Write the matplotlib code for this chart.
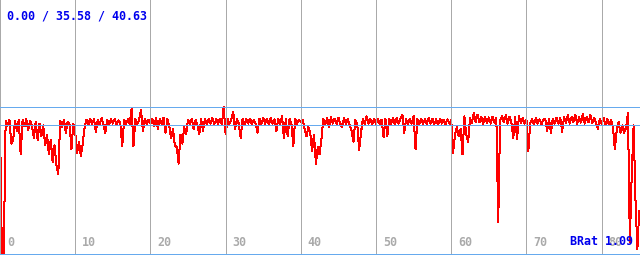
import matplotlib
matplotlib.use("Agg")
import matplotlib.pyplot as plt
import matplotlib.transforms as mtransforms
import numpy as np

# one sample every 0.25 x-units
step = 0.25
values = [
    36.5, 0.0, 0.0, 36.8, 35.4, 37.1, 30.5, 31.5, 36.6, 34.0,
    36.9, 27.5, 37.0, 35.2, 37.2, 34.2, 36.8, 35.5, 32.0, 36.5,
    31.5, 36.0, 32.5, 35.5, 30.0, 33.0, 27.5, 31.5, 25.5, 30.0,
    24.5, 22.0, 36.8, 35.0, 37.0, 33.5, 36.5, 35.8, 29.0, 36.0,
    33.5, 28.0, 31.0, 27.0, 30.5, 35.0, 37.0, 35.8, 37.3, 36.0,
    37.2, 33.8, 36.9, 35.7, 37.5, 35.9, 33.5, 37.0, 35.8, 37.2,
    36.0, 37.3, 35.7, 36.9, 36.2, 29.8, 37.0, 35.8, 37.2, 36.0,
    40.0, 29.8, 37.3, 35.9, 37.0, 39.8, 34.0, 37.2, 35.9, 37.0,
    36.1, 37.4, 35.2, 37.5, 34.5, 37.3, 35.8, 37.6, 33.5, 37.2,
    35.5, 32.0, 34.5, 30.0, 29.5, 25.0, 33.0, 30.5, 35.0, 33.0,
    37.0, 35.8, 37.3, 34.5, 37.0, 35.7, 33.0, 37.2, 34.0, 37.4,
    35.9, 37.3, 36.0, 37.5, 35.8, 37.2, 36.0, 37.4, 35.9, 40.6,
    33.0, 37.3, 35.9, 37.0, 39.3, 34.5, 37.2, 36.0, 32.0, 37.3,
    35.8, 37.2, 36.0, 37.4, 35.8, 37.1, 35.9, 33.5, 37.3, 35.9,
    37.5, 36.0, 37.3, 35.8, 37.6, 36.0, 37.2, 34.0, 37.4, 35.9,
    38.0, 32.0, 37.2, 32.5, 37.3, 36.0, 29.8, 37.4, 36.0, 37.1,
    36.5, 37.0, 34.5, 32.5, 35.0, 33.5, 28.5, 33.0, 25.0, 29.5,
    27.5, 32.0, 37.3, 35.8, 37.5, 35.0, 37.7, 36.0, 37.4, 35.9,
    37.6, 36.0, 35.0, 37.5, 35.8, 37.3, 35.5, 34.0, 31.0, 37.0,
    36.0, 28.7, 33.5, 37.2, 35.9, 38.0, 36.0, 37.3, 35.8, 37.2,
    36.0, 37.4, 35.9, 37.1, 32.2, 37.3, 32.5, 37.2, 36.0, 37.5,
    35.8, 37.6, 36.0, 37.3, 38.5, 33.5, 37.2, 35.9, 37.3, 36.0,
    38.2, 29.0, 37.3, 35.8, 37.4, 36.0, 37.2, 35.9, 37.5, 36.0,
    37.3, 35.8, 37.2, 35.5, 37.4, 36.0, 37.1, 35.8, 37.2, 36.0,
    37.0, 28.0, 33.0, 35.0, 32.5, 34.5, 27.5, 38.0, 33.0, 31.0,
    37.5, 36.2, 38.8, 36.5, 38.5, 36.3, 37.8, 36.0, 37.9, 36.2,
    37.7, 36.0, 37.9, 36.3, 37.5, 9.0, 37.0, 38.0, 36.4, 38.3,
    36.0, 37.9, 36.3, 32.0, 37.8, 31.8, 38.0, 36.2, 37.6, 36.0,
    37.2, 28.5, 36.0, 37.3, 35.8, 37.5, 36.0, 37.2, 35.9, 37.0,
    37.4, 34.0, 37.2, 33.5, 37.4, 36.0, 37.6, 36.0, 37.5, 33.8,
    37.8, 36.2, 38.3, 36.0, 37.8, 36.4, 38.5, 36.0, 37.7, 36.3,
    38.6, 36.0, 37.8, 36.4, 38.4, 36.1, 37.6, 36.2, 34.5, 37.2,
    36.0, 37.5, 35.8, 37.2, 35.5, 37.0, 35.0, 29.0, 34.0, 36.5,
    33.5, 35.5, 33.5, 35.0, 39.0, 3.3, 22.0, 35.5, 15.0, 1.5,
    12.0,
]

x_ticks = [0, 10, 20, 30, 40, 50, 60, 70, 80]
tick_labels = ["0", "10", "20", "30", "40", "50", "60", "70", "80"]
stat_min = 0.00
stat_avg = 35.58
stat_max = 40.63
ratio_label = "BRat 1.09"

x = np.arange(len(values)) * step

fig = plt.figure(figsize=(6.4, 2.56), dpi=100)
ax = fig.add_axes([0, 0.006, 1, 0.994])
ax.set_xlim(0, 85.1)
ax.set_ylim(0, 70)
ax.axis("off")

# 0.72 pt = 1 pixel at 100 dpi
ax.plot(x, values, color="#ff0000", lw=0.72, antialiased=False)

for t in x_ticks:
    ax.axvline(t, color="#aaaaaa", lw=0.72, clip_on=False, antialiased=False)
for v in (stat_min, stat_avg, stat_max):
    ax.axhline(v, color="#66aaee", lw=0.72, clip_on=False, antialiased=False)

font = dict(family="DejaVu Sans Mono", weight="bold", size=8.4)

# tick labels just right of each grid line, near the bottom
trans = mtransforms.offset_copy(ax.get_xaxis_transform(), fig=fig, x=7, y=8.5, units="dots")
for t, lab in zip(x_ticks, tick_labels):
    ax.text(t, 0, lab, transform=trans, color="#aaaaaa", va="baseline", ha="left", **font)

stats = "%.2f / %.2f / %.2f" % (stat_min, stat_avg, stat_max)
fig.text(7 / 640, 1 - 19.5 / 256, stats, color="#0000ee", va="baseline", ha="left", **font)
fig.text(570 / 640, 1 - 245 / 256, ratio_label, color="#0000ee", va="baseline", ha="left", **font)

fig.savefig("out.png", dpi=100)
